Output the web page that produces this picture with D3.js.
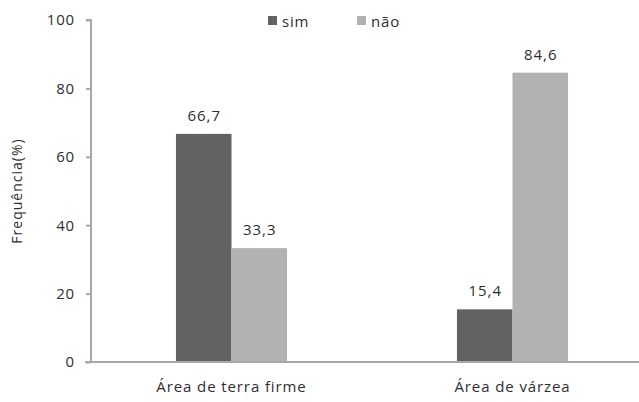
<!DOCTYPE html>
<html><head><meta charset="utf-8">
<script src="https://cdn.jsdelivr.net/npm/d3@7"></script>
<style>body{margin:0;background:#fff}svg{display:block}</style>
</head><body>
<svg id="c" width="639" height="402"></svg>
<script>
const categories = ["Área de terra firme", "Área de várzea"];
const series = ["sim", "não"];
const sim = [66.7, 15.4];
const nao = [33.3, 84.6];
const yTicks = [0, 20, 40, 60, 80, 100];
const labelText = v => String(v).replace(".", ",");

const colors = {"sim": "#626262", "não": "#b2b2b2"};
const font = "'Open Sans', sans-serif";
const textColor = "#2e2e2e";
const axisColor = "#a8a8a8";

const svg = d3.select("#c");
const y = d3.scaleLinear().domain([0, 100]).range([362, 20]);
const x0 = d3.scaleBand().domain(categories).range([91, 653]).padding(0);
const x1 = d3.scaleBand().domain(series).range([0, x0.bandwidth()]).paddingInner(0).paddingOuter(1.53);

const rows = categories.map((c, i) => ({cat: c, vals: [{s: "sim", v: sim[i]}, {s: "não", v: nao[i]}]}));

// bars
const g = svg.selectAll("g.grp").data(rows).join("g").attr("transform", d => `translate(${x0(d.cat)},0)`);
g.selectAll("rect").data(d => d.vals).join("rect")
  .attr("x", d => x1(d.s)).attr("width", x1.bandwidth())
  .attr("y", d => y(d.v)).attr("height", d => y(0) - y(d.v))
  .attr("fill", d => colors[d.s]);
g.selectAll("text").data(d => d.vals).join("text")
  .attr("x", d => x1(d.s) + x1.bandwidth() / 2 + 0.5).attr("y", d => y(d.v) - 13)
  .attr("text-anchor", "middle").attr("font-family", font).attr("font-size", 15)
  .attr("letter-spacing", 1).attr("fill", textColor).text(d => labelText(d.v));

// y axis
const yAxis = svg.append("g").attr("transform", "translate(91,0)")
  .call(d3.axisLeft(y).tickValues(yTicks).tickSize(5).tickPadding(11));
yAxis.select(".domain").attr("stroke", axisColor).attr("stroke-width", 2).attr("d", `M-5,${y(100)}H0V${y(0)}`);
yAxis.selectAll(".tick line").attr("stroke", axisColor).attr("stroke-width", 2);
yAxis.selectAll(".tick text").attr("font-family", font).attr("font-size", 15).attr("letter-spacing", 0.8).attr("fill", textColor);

// x axis
const xAxis = svg.append("g").attr("transform", `translate(0,${y(0)})`)
  .call(d3.axisBottom(x0).tickSize(0).tickPadding(16));
xAxis.select(".domain").attr("stroke", axisColor).attr("stroke-width", 2).attr("d", "M85,0H639");
xAxis.selectAll(".tick text").attr("font-family", font).attr("font-size", 15).attr("letter-spacing", 0.9).attr("fill", textColor).attr("dy", "0.9em");

// y label
svg.append("text").attr("transform", `translate(22,${(y(0) + y(100)) / 2}) rotate(-90)`)
  .attr("text-anchor", "middle").attr("font-family", font).attr("font-size", 14)
  .attr("letter-spacing", 1).attr("fill", textColor).text("Frequência(%)");

// legend
const legX = [268, 357];
const leg = svg.selectAll("g.leg").data(series).join("g").attr("transform", (d, i) => `translate(${legX[i]},16)`);
leg.append("rect").attr("width", 9).attr("height", 9).attr("fill", d => colors[d]);
leg.append("text").attr("x", 14).attr("y", 10.5).attr("font-family", font).attr("font-size", 15)
  .attr("letter-spacing", 0.8).attr("fill", textColor).text(d => d);
</script>
</body></html>
